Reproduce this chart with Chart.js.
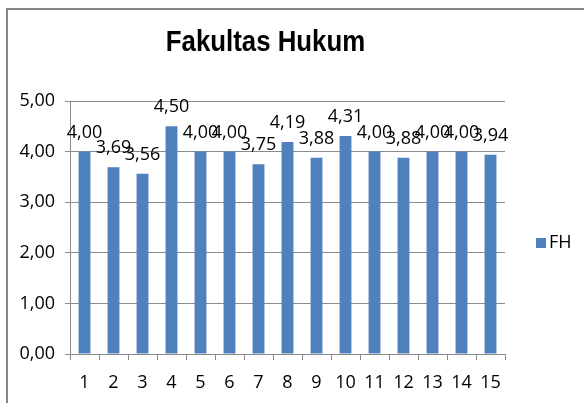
<!DOCTYPE html>
<html><head><meta charset="utf-8">
<script src="https://cdn.jsdelivr.net/npm/chart.js@4/dist/chart.umd.min.js"></script>
<style>html,body{margin:0;padding:0;background:#fff;overflow:hidden}#wrap{position:relative;width:584px;height:403px}</style>
</head><body><div id="wrap"><canvas id="c" width="584" height="403"></canvas></div>
<script>
const categories = ['1','2','3','4','5','6','7','8','9','10','11','12','13','14','15'];
const seriesName = 'FH';
const fhValues = [4.00, 3.69, 3.56, 4.50, 4.00, 4.00, 3.75, 4.19, 3.88, 4.31, 4.00, 3.88, 4.00, 4.00, 3.94];
const yTickValues = [0, 1, 2, 3, 4, 5];
const titleText = 'Fakultas Hukum';

const barColor = '#4F81BD';
const gridColor = '#8c8c8c';
const textFont = "'Open Sans', sans-serif";
const titleFont = "'Liberation Sans', sans-serif";
const fmt = v => Number(v).toFixed(2).replace('.', ',');

const decor = {
  id: 'decor',
  beforeDraw(chart) {
    const ctx = chart.ctx;
    ctx.save();
    ctx.fillStyle = '#fff';
    ctx.fillRect(0, 0, chart.width, chart.height);
    ctx.strokeStyle = '#868686';
    ctx.lineWidth = 2;
    ctx.strokeRect(7, 9, 800, 600);
    ctx.restore();
  },
  afterDraw(chart) {
    const ctx = chart.ctx;
    ctx.save();
    // title (horizontally condensed to match the reference face)
    ctx.fillStyle = '#000';
    ctx.font = "bold 30px " + titleFont;
    ctx.textAlign = 'center';
    ctx.textBaseline = 'alphabetic';
    ctx.save();
    ctx.translate(265.5, 51);
    ctx.scale(0.86, 1);
    ctx.fillText(titleText, 0, 0);
    ctx.restore();
    // data labels
    ctx.font = "18px " + textFont;
    ctx.textBaseline = 'middle';
    const meta = chart.getDatasetMeta(0);
    meta.data.forEach((el, i) => {
      ctx.fillText(fmt(chart.data.datasets[0].data[i]), el.x, el.y - 19);
    });
    // legend
    ctx.fillStyle = barColor;
    ctx.fillRect(536, 238, 10, 10);
    ctx.fillStyle = '#000';
    ctx.textAlign = 'left';
    ctx.fillText(chart.data.datasets[0].label, 549, 243);
    ctx.restore();
  }
};

new Chart(document.getElementById('c'), {
  type: 'bar',
  data: {
    labels: categories,
    datasets: [{ label: seriesName, data: fhValues, backgroundColor: barColor, borderWidth: 0,
      categoryPercentage: 1, barPercentage: 0.41 }]
  },
  options: {
    responsive: false,
    devicePixelRatio: 1,
    animation: false,
    layout: { padding: { left: 0, right: 79, top: 101, bottom: 0 } },
    plugins: { legend: { display: false }, title: { display: false }, tooltip: { enabled: false } },
    scales: {
      x: {
        offset: true,
        grid: { drawOnChartArea: false, drawTicks: true, tickLength: 6, color: gridColor, offset: true },
        border: { display: true, color: gridColor, width: 1 },
        ticks: { color: '#000', font: { family: textFont, size: 18 }, padding: 12, maxRotation: 0, autoSkip: false },
        afterFit(s) { s.height = 49; }
      },
      y: {
        min: 0, max: 5,
        afterBuildTicks(s) { s.ticks = yTickValues.map(v => ({ value: v })); },
        grid: { color: gridColor, tickLength: 5, drawTicks: true },
        border: { display: true, color: gridColor, width: 1 },
        ticks: { color: '#000', font: { family: textFont, size: 18 }, padding: 10, callback: v => fmt(v) },
        afterFit(s) { s.width = 70; }
      }
    }
  },
  plugins: [decor]
});
</script></body></html>
